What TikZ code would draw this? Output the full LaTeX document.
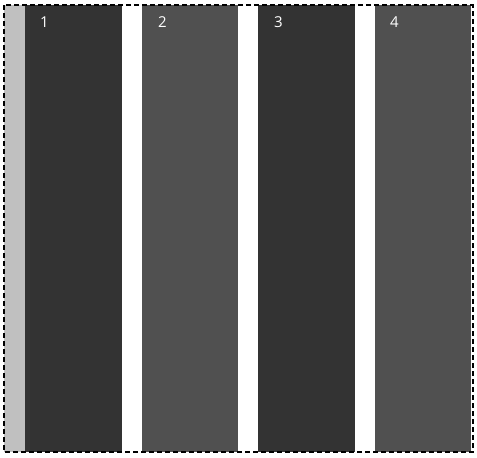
\documentclass[tikz,border=0pt]{standalone}
\usepackage{fontspec}
\setmainfont{Open Sans}
\definecolor{darkcol}{HTML}{333333}
\definecolor{midcol}{HTML}{505050}
\definecolor{strip}{HTML}{C0C0C0}
\begin{document}
\begin{tikzpicture}[x=1pt,y=-1pt,
  lbl/.style={text=white,font=\fontsize{15}{15}\selectfont,inner sep=0pt,anchor=center}]
\useasboundingbox (0,0) rectangle (477,458);
\fill[white] (0,0) rectangle (477,458);
\fill[strip] (4,5) rectangle (25,452);
\fill[darkcol] (25,5) rectangle (122,452);
\fill[midcol] (142,5) rectangle (238,452);
\fill[darkcol] (258,5) rectangle (355,452);
\fill[midcol] (375,5) rectangle (471,452);
\node[lbl] (l1) at (44.5,22) {1};
\node[lbl] (l2) at (162.5,22) {2};
\node[lbl] (l3) at (278.5,22) {3};
\node[lbl] (l4) at (394.5,22) {4};
\draw[black,line width=2pt,dash pattern=on 5pt off 3pt] (4,5) rectangle (472.5,452);
\end{tikzpicture}
\end{document}
